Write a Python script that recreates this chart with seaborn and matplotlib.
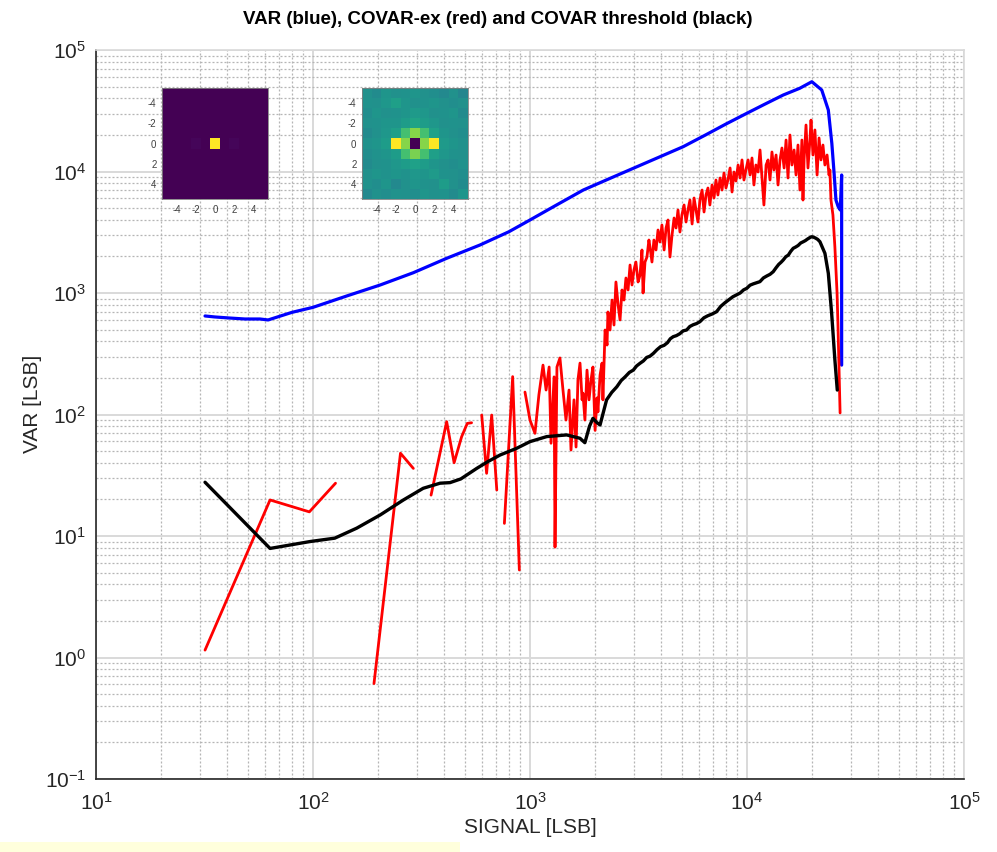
import matplotlib
matplotlib.use("Agg")
import matplotlib.pyplot as plt
from matplotlib import font_manager
from matplotlib.patches import Rectangle
from matplotlib.ticker import LogLocator, NullFormatter
import numpy as np
import pandas as pd
import seaborn as sns

# ---------------------------------------------------------------- data
# VAR (blue)
blue_x = [31.8, 35.3, 41.5, 48.6, 57.0, 62.1, 80.0, 100, 143, 204, 290, 413, 589,
          800, 1000, 1300, 1760, 2300, 2990, 3900, 5080, 6500, 8000, 9980, 12000,
          14700, 17500, 19900, 22100, 23700, 24600, 25200, 25700, 26300, 26900,
          27300, 27300]
blue_y = [647, 635, 622, 611, 611, 600, 693, 762, 945, 1164, 1469, 1930, 2486,
          3195, 3990, 5200, 7040, 8670, 10620, 13040, 16000, 20160, 24600, 30130,
          35600, 42640, 48400, 54830, 46860, 32080, 17060, 9660, 5820, 5150, 4820,
          9360, 255]

# COVAR threshold (black)
black_x = [31.8, 63.4, 96.8, 126, 159, 204, 261, 322, 385, 428, 480, 568, 640,
           728, 868, 1000, 1195, 1476, 1700, 1790, 1880, 1950, 2030, 2103, 2254,
           2380, 2512, 2630, 2750, 2870, 2992, 3100, 3214, 3330, 3450, 3570, 3700,
           3850, 4000, 4150, 4300, 4430, 4571, 4730, 4900, 5080, 5270, 5450, 5650,
           5850, 6070, 6330, 6600, 6910, 7244, 7560, 7900, 8250, 8610, 8950, 9300,
           9640, 9977, 10330, 10700, 11080, 11470, 11900, 12330, 12770, 13210,
           13600, 14000, 14350, 14690, 15100, 15500, 15900, 16330, 16760, 17200,
           17680, 18170, 18580, 19000, 19430, 19860, 20270, 20700, 21180, 21680,
           22860, 23700, 24550, 25410, 26060]
black_y = [27.7, 7.9, 9.0, 9.6, 11.6, 14.9, 19.8, 24.7, 27.2, 27.5, 29.5, 36,
           41, 46.4, 52.7, 59.8, 65.8, 67.9, 63.7, 58.6, 80, 93, 86, 82, 132,
           152, 169, 190, 205, 222, 232, 251, 264, 276, 295, 302, 318,
           342, 362, 371, 390, 420, 437, 446, 462, 488, 496, 530, 548,
           560, 581, 625, 650, 672, 702, 775, 830, 880, 932, 965, 1000,
           1060, 1093, 1160, 1190, 1215, 1240, 1330, 1380, 1425, 1498,
           1610, 1720, 1790, 1870, 1990, 2050, 2200, 2333, 2390, 2460,
           2580, 2643, 2700, 2780, 2850, 2908, 2880, 2830, 2760, 2643,
           2122, 1453, 681, 281, 159]

# COVAR-ex (red); None marks a break between measured runs
red_x = [31.8, 63.4, 96.2, 127, None,
         191, 253, 290, None,
         350, 413, 447, 484, 514, 538, None,
         599, 631, 666, 703, None,
         762, 832, 893, None,
         948, 1000, 1054, 1099, 1148, 1186, 1225, 1250, 1291, 1304,
         1331, 1374, 1419, 1465, 1513, 1545, 1595, 1630, 1663, 1700,
         1738, 1754, 1791, 1831, 1871, 1910, 1950, 1995, 2037, 2056,
         2103, 2148, 2168, 2218, 2265, 2286, 2338, 2388, 2438, 2489,
         2547, 2600, 2655, 2711, 2768, 2831, 2891, 2951, 3013, 3076,
         3148, 3214, 3281, 3319, 3388, 3459, 3532, 3573, 3648, 3724,
         3808, 3890, 3972, 4055, 4150, 4236, 4325, 4416, 4508, 4613,
         4710, 4808, 4909, 5012, 5129, 5236, 5346, 5458, 5585, 5702,
         5821, 5943, 6067, 6209, 6339, 6471, 6607, 6745, 6902, 7047,
         7194, 7345, 7516, 7674, 7834, 7998, 8166, 8356, 8531, 8710,
         8892, 9099, 9290, 9484, 9683, 9886, 10116, 10328, 10544, 10765,
         10990, 11246, 11482, 11722, 11967, 12246, 12503, 12764, 13032, 13305,
         13614, 13900, 14191, 14488, 14825, 15136, 15453, 15776, 16106, 16482,
         16827, 17179, 17539, 17906, 18113, 18323, 18707, 19099, 19498, 19724,
         20137, 20559, 21038, 21478, 21928, 22387, 22856, 23388, 23878, 24099,
         24378, 24889, 25410, 25704, 26002, 26242, 26546, 26853]
red_y = [1.15, 19.8, 15.8, 27.2, None,
         0.61, 48, 36, None,
         21.7, 87.3, 40.1, 65.6, 84.5, 85.5, None,
         99, 32.8, 99, 23.9, None,
         12.7, 205, 5.25, None,
         153, 90, 70, 145, 255, 159, 246, 58, 204, 8.1,
         246, 292, 159, 90, 159, 51, 132, 54, 192, 265,
         132, 150, 90, 232, 132, 192, 246, 74, 137, 105,
         211, 265, 132, 496, 373, 698, 496, 875, 545, 1232,
         796, 600, 1059, 875, 1329, 1059, 1700, 1164, 1546, 1799,
         1232, 1406, 2260, 1000, 1799, 1978, 2730, 2391, 1799, 2730,
         2260, 3300, 2628, 3627, 2260, 3428, 3990, 1978, 2944, 4143,
         3428, 4820, 3177, 4385, 5301, 3839, 4820, 5820, 3698, 6053,
         4820, 3839, 5820, 7040, 4641, 6407, 7315, 5301, 7745, 6053,
         8510, 6407, 8842, 7040, 9718, 7315, 8511, 10690, 6780, 9906,
         8351, 11310, 8842, 12450, 8510, 10290, 12450, 9359, 12920, 7745,
         11310, 9906, 15030, 8842, 5301, 11310, 12450, 8510, 14470, 10290,
         13670, 7745, 12450, 15610, 10690, 18160, 8842, 19970, 11310, 15030,
         9359, 16520, 7040, 18160, 5820, 12450, 24130, 10690, 18160, 26500,
         13670, 21980, 9359, 18870, 12450, 16520, 11310, 13670, 9359, 10290,
         5820, 4385, 2391, 1546, 1000, 566, 232, 103]

# 11x11 pixel-correlation kernels shown as insets (rows/cols -5..5)
kernel_var = [
    [0, 0, 0, 0, 0, 0, 0, 0, 0, 0, 0],
    [0, 0, 0, 0, 0, 0, 0, 0, 0, 0, 0],
    [0, 0, 0, 0, 0, 0, 0, 0, 0, 0, 0],
    [0, 0, 0, 0, 0, 0, 0, 0, 0, 0, 0],
    [0, 0, 0, 0, 0, 0, 0, 0, 0, 0, 0],
    [0, 0, 0, 0.012, 0, 1.0, 0, 0.012, 0, 0, 0],
    [0, 0, 0, 0, 0, 0, 0, 0, 0, 0, 0],
    [0, 0, 0, 0, 0, 0, 0, 0, 0, 0, 0],
    [0, 0, 0, 0, 0, 0, 0, 0, 0, 0, 0],
    [0, 0, 0, 0, 0, 0, 0, 0, 0, 0, 0],
    [0, 0, 0, 0, 0, 0, 0, 0, 0, 0, 0],
]
kernel_covar = [
    [0.50, 0.48, 0.52, 0.50, 0.51, 0.52, 0.50, 0.49, 0.47, 0.50, 0.46],
    [0.51, 0.50, 0.53, 0.56, 0.52, 0.50, 0.51, 0.52, 0.50, 0.49, 0.50],
    [0.49, 0.52, 0.50, 0.51, 0.52, 0.54, 0.53, 0.50, 0.51, 0.52, 0.48],
    [0.50, 0.51, 0.52, 0.52, 0.55, 0.58, 0.55, 0.53, 0.50, 0.51, 0.50],
    [0.48, 0.50, 0.53, 0.56, 0.70, 0.82, 0.70, 0.57, 0.52, 0.50, 0.49],
    [0.51, 0.52, 0.55, 1.00, 0.82, 0.00, 0.82, 1.00, 0.54, 0.52, 0.50],
    [0.49, 0.51, 0.52, 0.55, 0.70, 0.80, 0.70, 0.56, 0.53, 0.51, 0.50],
    [0.48, 0.50, 0.51, 0.53, 0.55, 0.57, 0.55, 0.52, 0.50, 0.49, 0.51],
    [0.50, 0.52, 0.51, 0.52, 0.51, 0.53, 0.52, 0.54, 0.51, 0.50, 0.49],
    [0.51, 0.49, 0.52, 0.47, 0.50, 0.52, 0.51, 0.50, 0.55, 0.50, 0.48],
    [0.47, 0.50, 0.49, 0.51, 0.50, 0.49, 0.52, 0.50, 0.51, 0.48, 0.52],
]
kernel_ticks = ["-4", "-2", "0", "2", "4"]

TITLE = "VAR (blue), COVAR-ex (red) and COVAR threshold (black)"
XLABEL = "SIGNAL [LSB]"
YLABEL = "VAR [LSB]"

# ---------------------------------------------------------------- style
sns.set_style("white")
installed = {f.name for f in font_manager.fontManager.ttflist}
base_font = "Liberation Sans Narrow" if "Liberation Sans Narrow" in installed else "Liberation Sans"
plt.rcParams["font.family"] = [base_font, "DejaVu Sans"]
plt.rcParams["mathtext.fontset"] = "custom"
plt.rcParams["mathtext.rm"] = base_font
plt.rcParams["mathtext.it"] = base_font
plt.rcParams["mathtext.bf"] = base_font + ":bold"

TXT = "#262626"
W, H = 997, 852

fig = plt.figure(figsize=(W / 100, H / 100), dpi=100)
fig.add_artist(Rectangle((0, 0), 460 / W, 10 / H, transform=fig.transFigure,
                         facecolor="#ffffdc", edgecolor="none", zorder=0))

ax = fig.add_axes([96 / W, 1 - 779 / H, (964 - 96) / W, (779 - 50) / H])
ax.set_xscale("log")
ax.set_yscale("log")

# ---------------------------------------------------------------- curves
blue_df = pd.DataFrame({"signal": blue_x, "value": blue_y})
sns.lineplot(data=blue_df, x="signal", y="value", ax=ax, color="#0000ff",
             linewidth=2.3, estimator=None, sort=False)

red_df = pd.DataFrame({"signal": red_x, "value": red_y})
red_df["run"] = red_df["signal"].isna().cumsum()
red_df = red_df.dropna()
sns.lineplot(data=red_df, x="signal", y="value", units="run", ax=ax,
             color="#ff0000", linewidth=2.0, estimator=None, sort=False)

black_df = pd.DataFrame({"signal": black_x, "value": black_y})
sns.lineplot(data=black_df, x="signal", y="value", ax=ax, color="#000000",
             linewidth=2.4, estimator=None, sort=False)

# ---------------------------------------------------------------- axes
ax.set_xlim(10, 1e5)
ax.set_ylim(0.1, 1e5)
for axis in (ax.xaxis, ax.yaxis):
    axis.set_major_locator(LogLocator(base=10, numticks=20))
    axis.set_minor_locator(LogLocator(base=10, subs=np.arange(2, 10), numticks=200))
    axis.set_minor_formatter(NullFormatter())

ax.set_axisbelow(True)
ax.grid(which="major", color="#d9d9d9", linewidth=1.4, linestyle="-")
ax.grid(which="minor", color="#b5b5b5", linewidth=0.9, linestyle=(0, (1.6, 1.6)))

ax.tick_params(which="major", direction="in", length=6.5, width=1.2, color=TXT,
               labelsize=15, labelcolor=TXT, top=False, right=False)
ax.tick_params(axis="x", which="major", pad=9)
ax.tick_params(axis="y", which="major", pad=7)
ax.tick_params(which="minor", length=0)

for side in ("left", "bottom"):
    ax.spines[side].set_color(TXT)
    ax.spines[side].set_linewidth(1.2)
for side in ("top", "right"):
    ax.spines[side].set_color("#d9d9d9")
    ax.spines[side].set_linewidth(1.2)

fig.text(0.499, 1 - 19 / H, TITLE, ha="center", va="center",
         fontsize=13.5, fontweight="bold", color="#000000")
ax.set_xlabel(XLABEL, fontsize=15, color=TXT, labelpad=3)
ax.set_ylabel(YLABEL, fontsize=15, color=TXT)
ax.yaxis.set_label_coords(-0.062, 0.515)

# ---------------------------------------------------------------- insets
for kernel, left in ((kernel_var, 162), (kernel_covar, 362)):
    iax = fig.add_axes([left / W, 1 - 199 / H, 106 / W, 111 / H])
    sns.heatmap(np.array(kernel), ax=iax, cmap="viridis", vmin=0, vmax=1,
                cbar=False, square=False, xticklabels=False, yticklabels=False)
    pos = [1.5, 3.5, 5.5, 7.5, 9.5]
    iax.set_xticks(pos)
    iax.set_xticklabels(kernel_ticks, rotation=0)
    iax.set_yticks(pos)
    iax.set_yticklabels(kernel_ticks, rotation=0)
    iax.tick_params(labelsize=7, labelcolor="#404040", length=2, width=0.5,
                    direction="in", color="#404040", pad=4)
    for sp in iax.spines.values():
        sp.set_visible(True)
        sp.set_color("#808080")
        sp.set_linewidth(0.6)

fig.savefig("out.png", dpi=100)
